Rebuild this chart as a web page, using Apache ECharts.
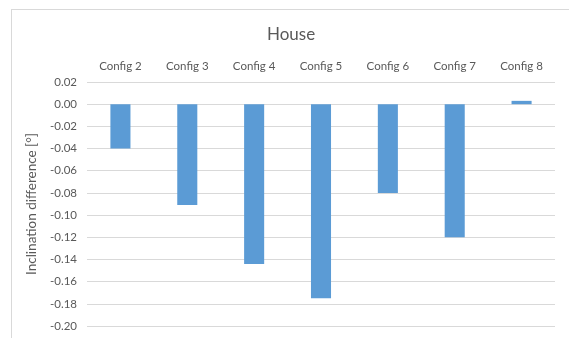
<!DOCTYPE html>
<html>
<head>
<meta charset="utf-8">
<script src="https://cdn.jsdelivr.net/npm/echarts@6/dist/echarts.min.js"></script>
<style>
  html, body { margin: 0; padding: 0; background: #fff; }
  #frame { position: absolute; left: 11px; top: 9px; width: 580px; height: 360px; border: 1px solid #d9d9d9; box-sizing: border-box; }
  #chart { position: absolute; left: 0; top: 0; width: 569px; height: 338px; }
</style>
</head>
<body>
<div id="frame"></div>
<div id="chart"></div>
<script>
const categories = ['Config 2', 'Config 3', 'Config 4', 'Config 5', 'Config 6', 'Config 7', 'Config 8'];
const inclinationDiff = [-0.040, -0.091, -0.144, -0.175, -0.080, -0.120, 0.003];

const textColor = '#595959';
const fontFamily = 'Lato, "Open Sans", sans-serif';

const chart = echarts.init(document.getElementById('chart'), null, { renderer: 'canvas' });
chart.setOption({
  animation: false,
  backgroundColor: 'transparent',
  title: {
    text: 'House',
    left: 262,
    top: 21,
    textStyle: { color: textColor, fontSize: 17, fontWeight: 'normal', fontFamily }
  },
  grid: { left: 87, right: 14, top: 82, bottom: 12, containLabel: false },
  xAxis: {
    type: 'category',
    position: 'top',
    data: categories,
    axisLine: { show: false },
    axisTick: { show: false },
    axisLabel: { color: textColor, fontSize: 11.5, fontFamily, margin: 10 }
  },
  yAxis: {
    type: 'value',
    min: -0.2,
    max: 0.02,
    interval: 0.02,
    name: 'Inclination difference [°]',
    nameLocation: 'middle',
    nameGap: 41,
    nameTextStyle: { color: textColor, fontSize: 13.5, fontFamily },
    axisLine: { show: false },
    axisTick: { show: false },
    axisLabel: {
      color: textColor, fontSize: 11.5, fontFamily, margin: 10,
      formatter: v => v.toFixed(2)
    },
    splitLine: { lineStyle: { color: '#d9d9d9', width: 1 } }
  },
  series: [{
    type: 'bar',
    data: inclinationDiff,
    barWidth: '30%',
    itemStyle: { color: '#5b9bd5' }
  }]
});
</script>
</body>
</html>
